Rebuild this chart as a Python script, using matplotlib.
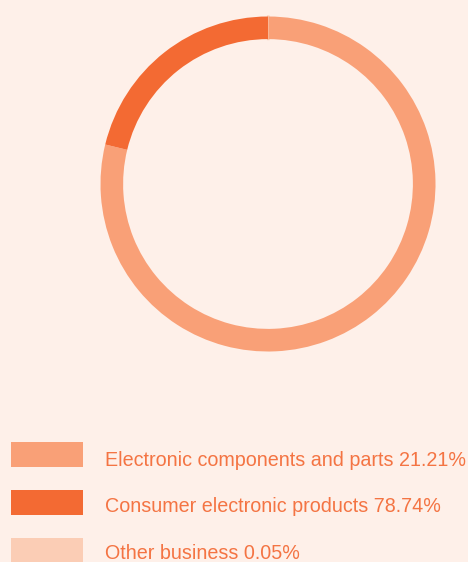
import matplotlib.pyplot as plt
from matplotlib.patches import Rectangle

# values as drawn on the ring, clockwise from 12 o'clock
ring_values = [0.05, 78.74, 21.21]
ring_colors = ['#FBCDB5', '#F9A077', '#F36A33']

legend_labels = ['Electronic components and parts 21.21%',
                 'Consumer electronic products 78.74%',
                 'Other business 0.05%']
legend_colors = ['#F9A077', '#F36A33', '#FBCDB5']

bg = '#FEF0E9'
W, H = 468, 562

fig = plt.figure(figsize=(W / 100, H / 100), dpi=100, facecolor=bg)

# ring
cx, cy, r = 268, 184, 167.5
ax = fig.add_axes([(cx - r) / W, 1 - (cy + r) / H, 2 * r / W, 2 * r / H])
ax.set_facecolor(bg)
wedges, _ = ax.pie(ring_values, colors=ring_colors, startangle=90, counterclock=False,
                   radius=1, wedgeprops=dict(width=0.135, linewidth=0))
# the tiny slice is almost invisible, give it a thin edge like the original
wedges[0].set_edgecolor(ring_colors[0])
wedges[0].set_linewidth(1.5)
ax.set_xlim(-1, 1)
ax.set_ylim(-1, 1)
ax.set_aspect('equal')
ax.axis('off')

# legend
lax = fig.add_axes([0, 0, 1, 1], facecolor='none')
lax.set_xlim(0, W)
lax.set_ylim(H, 0)
lax.axis('off')
for i, (lab, col) in enumerate(zip(legend_labels, legend_colors)):
    top = 442 + i * 48
    lax.add_patch(Rectangle((11, top), 72, 25, facecolor=col, edgecolor='none'))
    lax.text(105, 466 + i * 46.5, lab, color='#F47443', fontsize=14.2,
             family='Liberation Sans', va='baseline', ha='left')

fig.savefig('out.png', dpi=100, facecolor=bg)
